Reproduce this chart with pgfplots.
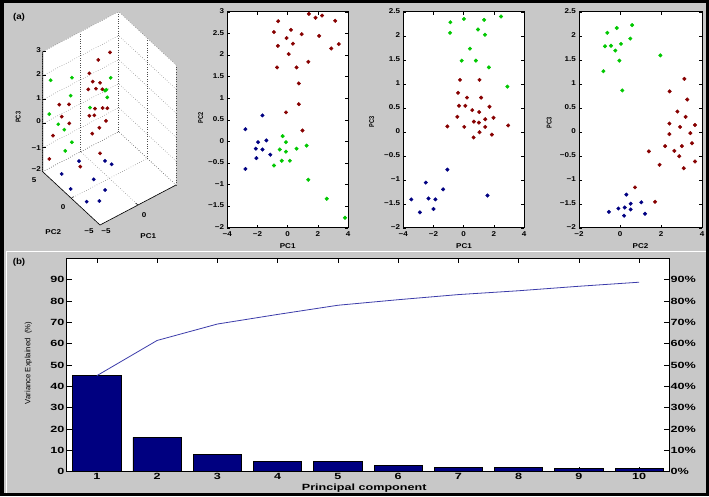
\documentclass[border=0pt]{standalone}
\usepackage{fontspec}
\setmainfont{Liberation Sans}
\newfontfamily\widefont{Liberation Sans}[FakeStretch=1.4]
\newfontfamily\midfont{Liberation Sans}[FakeStretch=1.15]
\newfontfamily\narrowfont{Liberation Sans}[FakeStretch=0.8]
\usepackage{pgfplots}
\pgfplotsset{compat=1.18}

\definecolor{panel}{RGB}{200,200,200}
\definecolor{pcred}{RGB}{135,0,0}
\definecolor{pcgreen}{RGB}{0,200,0}
\definecolor{pcblue}{RGB}{0,0,130}
\definecolor{barblue}{RGB}{0,0,128}
\definecolor{cumline}{RGB}{60,60,170}

\newcommand{\pctop}{\midfont\bfseries\fontsize{7}{8}\selectfont}
\newcommand{\pcbot}{\widefont\bfseries\fontsize{9}{10}\selectfont}

\pgfplotsset{
  pcscatter/.style={
    scale only axis, anchor=south west,
    width=120.7pt, height=216pt,
    axis background/.style={fill=white},
    tick align=inside, major tick length=3pt,
    tick style={black, line width=0.4pt},
    axis line style={line width=0.6pt},
    ticklabel style={font=\pctop},
    xticklabel style={inner sep=1.5pt, yshift=-2.5pt},
    yticklabel style={inner sep=3pt, yshift=0.5pt},
    clip=false, mark size=1.8pt,
  },
  redpts/.style={only marks, mark=*, color=pcred},
  greenpts/.style={only marks, mark=*, color=pcgreen},
  bluepts/.style={only marks, mark=*, color=pcblue},
}

\begin{document}
\begin{tikzpicture}
\useasboundingbox (0pt,0pt) rectangle (709pt,-496pt);
\begin{scope}[x=1pt,y=-1pt]
  \fill[black] (0,0) rectangle (709,496);
  \fill[panel] (4,3) rectangle (706,493);
  \draw[white, line width=1pt] (6,493) -- (6,251) -- (706,251);
  % white walls of the 3D box
  \fill[white] (42.7,171.7) -- (42.7,51.7) -- (118.7,11.7) -- (176,65) -- (176,185) -- (100,225) -- cycle;
\end{scope}

% ---------- (a) 3D view
\begin{axis}[
  at={(109.35pt,-130.35pt)}, anchor=origin,
  x={(7.6pt,4pt)}, y={(-5.73pt,5.33pt)}, z={(0pt,24pt)},
  xmin=-5, xmax=5, ymin=-5, ymax=5, zmin=-2, zmax=3,
  xtick={-5,0,5}, ytick={-5,0,5}, ztick={-2,...,3},
  xticklabels={}, yticklabels={}, zticklabels={},
  grid=major, major grid style={black!70, dotted, line width=0.5pt},
  axis line style={draw=none}, tick style={draw=none},
  clip=false, mark size=1.7pt,
]
\addplot3[redpts] coordinates {
  (2.72,3.5,2.02) (1.18,3.5,1.96) (0,3.5,1.6) (0.45,3.5,1.18) (1.41,3.5,0.97)
  (0.88,3.5,0.81) (-0.13,3.5,0.95) (1.71,3.5,0.65) (-3.95,3.5,0.95) (-2.67,3.5,0.75)
  (0.75,3.5,0) (1.76,3.5,-0.14) (2.37,3.5,-0.25) (0,3.5,-0.17) (0.66,3.5,-0.26)
  (-3.63,3.5,0.4) (-2.63,3.5,-0.05) (2.2,3.5,-0.75) (1.32,3.5,-0.89) (-4.78,3.5,-0.2)
  (0.39,3.5,-0.98) (-4.51,4.5,-1.44) (-0.47,1,-1.1) (-3.07,1,-1.22)};
\addplot3[greenpts] coordinates {
  (-4.33,4.5,1.81) (-1.53,4.5,1.45) (0.18,0,2.16) (-0.57,0,1.75) (-0.4,0,1.76)
  (-0.27,0,1.42) (-1.7,4.5,0.73) (-4.51,4.5,0.43) (-2.55,0,1.37) (-3.33,4.5,-0.19)
  (-2.54,4.5,-0.55) (-1.53,4.5,-1.24) (-2.41,4.5,-1.45)};
\addplot3[bluepts] coordinates {
  (-2.07,2.55,-1.5) (0.12,0.92,-1.5) (0.38,0.10,-1.5) (-4.69,2.09,-1.5) (-2.49,-0.57,-1.5)
  (-4.64,0.59,-1.8) (-2.5,-2.56,-1.5) (-4.23,-1.66,-1.9) (-3.32,-2.66,-1.8)};
\end{axis}

% ---------- PC1 vs PC2
\begin{axis}[pcscatter, at={(227.3pt,-227.7pt)},
  xmin=-4, xmax=4, ymin=-2, ymax=3,
  xtick={-4,-2,0,2,4}, xticklabels={−4,−2,0,2,4},
  ytick={-2,-1.5,-1,-0.5,0,0.5,1,1.5,2,2.5,3},
  yticklabels={−2,−1.5,−1,−0.5,0,0.5,1,1.5,2,2.5,3}]
\addplot[redpts] coordinates {
  (1.41,2.95) (1.85,2.86) (2.28,2.91) (3.15,2.79) (-0.63,2.78) (-0.91,2.53) (0.22,2.58)
  (-0.07,2.39) (0.93,2.48) (2.09,2.44) (0.35,2.26) (-0.65,2.21) (3.39,2.25) (2.89,2.15)
  (0.07,2.02) (1.37,1.84) (-0.70,1.71) (0.59,1.71) (0.74,1.34) (0.74,0.86) (-0.11,0.67)
  (0.98,0.25)};
\addplot[bluepts] coordinates {
  (-1.67,0.60) (-2.80,0.28) (-1.41,0.02) (-1.96,-0.02) (-2.11,-0.17) (-1.67,-0.19)
  (-1.15,-0.31) (-2.07,-0.39) (-2.80,-0.64)};
\addplot[greenpts] coordinates {
  (-0.33,0.12) (-0.11,-0.02) (-0.52,-0.19) (-0.11,-0.24) (0.59,-0.17) (1.26,-0.10)
  (-0.39,-0.45) (0.15,-0.45) (-0.91,-0.56) (1.37,-0.89) (2.59,-1.33) (3.80,-1.77)};
\end{axis}

% ---------- PC1 vs PC3
\begin{axis}[pcscatter, at={(403.3pt,-227.7pt)},
  xmin=-4, xmax=4, ymin=-2, ymax=2.5,
  xtick={-4,-2,0,2,4}, xticklabels={−4,−2,0,2,4},
  ytick={-2,-1.5,-1,-0.5,0,0.5,1,1.5,2,2.5},
  yticklabels={−2,−1.5,−1,−0.5,0,0.5,1,1.5,2,2.5}]
\addplot[greenpts] coordinates {
  (-0.88,2.28) (0.02,2.35) (1.36,2.33) (2.48,2.40) (-0.90,2.06) (0.95,2.13) (1.41,2.02)
  (0.42,1.73) (-0.13,1.48) (0.81,1.48) (1.67,1.34) (2.90,0.94)};
\addplot[redpts] coordinates {
  (-0.24,1.08) (1.05,1.08) (-0.37,0.81) (0.22,0.71) (1.16,0.71) (-0.31,0.54) (0.11,0.54)
  (0.57,0.45) (1.03,0.41) (1.71,0.52) (-0.42,0.31) (1.43,0.26) (1.98,0.29) (0.68,0.21)
  (1.01,0.19) (-1.08,0.11) (0.04,0.10) (1.43,0.10) (2.95,0.13) (1.05,-0.01) (1.87,-0.06)
  (0.66,-0.12)};
\addplot[bluepts] coordinates {
  (-3.47,-1.41) (-2.51,-1.06) (-2.33,-1.39) (-2.90,-1.68) (-1.87,-1.41) (-2.00,-1.61)
  (-1.36,-1.20) (-1.08,-0.79) (1.58,-1.33)};
\end{axis}

% ---------- PC2 vs PC3
\begin{axis}[pcscatter, at={(579pt,-227.7pt)}, width=123pt,
  xmin=-2, xmax=4, ymin=-2, ymax=2.5,
  xtick={-2,0,2,4}, xticklabels={−2,0,2,4},
  ytick={-2,-1.5,-1,-0.5,0,0.5,1,1.5,2,2.5},
  yticklabels={−2,−1.5,−1,−0.5,0,0.5,1,1.5,2,2.5}]
\addplot[greenpts] coordinates {
  (-0.62,2.06) (-0.16,2.16) (0.59,2.22) (-0.73,1.78) (-0.44,1.79) (0.05,1.83)
  (-0.23,1.69) (0.50,1.94) (-0.03,1.48) (-0.81,1.26) (0.11,0.86) (1.97,1.59)};
\addplot[redpts] coordinates {
  (3.14,1.10) (2.42,0.84) (3.28,0.67) (2.80,0.42) (3.20,0.31) (2.41,0.17) (2.93,0.10)
  (3.66,0.14) (2.41,-0.05) (3.43,-0.03) (2.20,-0.30) (3.02,-0.30) (3.51,-0.24)
  (1.41,-0.41) (2.65,-0.40) (2.89,-0.51) (1.93,-0.69) (3.66,-0.62) (3.11,-0.76)
  (0.73,-1.16) (1.71,-1.46)};
\addplot[bluepts] coordinates {
  (0.31,-1.31) (-0.54,-1.67) (-0.08,-1.60) (0.23,-1.58) (0.52,-1.50) (0.52,-1.62)
  (0.20,-1.75) (1.04,-1.47) (1.22,-1.71)};
\end{axis}

% ---------- (b) Pareto chart
\begin{axis}[
  at={(66.7pt,-471.7pt)}, anchor=south west, scale only axis,
  width=602.6pt, height=213.4pt,
  axis background/.style={fill=white},
  xmin=0.5, xmax=10.5, ymin=0, ymax=100,
  xtick={1,...,10}, xticklabels={1,2,3,4,5,6,7,8,9,10},
  ytick={0,10,...,90}, yticklabels={0,10,20,30,40,50,60,70,80,90},
  ytick pos=left,
  tick align=inside, major tick length=5pt,
  tick style={black, line width=0.5pt},
  axis line style={line width=0.7pt},
  ticklabel style={font=\pcbot},
  xticklabel style={inner sep=1.5pt},
  yticklabel style={inner sep=2pt},
]
\addplot[ybar, bar width=0.8, fill=barblue, draw=black, line width=0.7pt] coordinates {
  (1,45) (2,16.1) (3,8.2) (4,5.0) (5,4.7) (6,3.0) (7,2.2) (8,1.9) (9,1.6) (10,1.5)};
\addplot[sharp plot, color=cumline, line width=0.8pt] coordinates {
  (1,45) (2,61.5) (3,69.2) (4,73.7) (5,78.0) (6,80.6) (7,83.0) (8,84.8) (9,86.9) (10,88.8)};
\end{axis}
\begin{axis}[
  at={(66.7pt,-471.7pt)}, anchor=south west, scale only axis,
  width=602.6pt, height=213.4pt,
  xmin=0.5, xmax=10.5, ymin=0, ymax=100,
  axis x line=none, axis y line*=right,
  ytick={0,10,...,90},
  yticklabels={0\%,10\%,20\%,30\%,40\%,50\%,60\%,70\%,80\%,90\%},
  tick align=inside, major tick length=5pt,
  tick style={black, line width=0.5pt},
  axis line style={line width=0.7pt},
  yticklabel style={font=\pcbot, inner sep=1pt},
]
\end{axis}

\begin{scope}[x=1pt,y=-1pt]
  % front edges of the 3D box
  \draw[black, line width=0.6pt] (42.7,51.7) -- (42.7,171.7) -- (100,225) -- (176,185);
  \foreach \yy in {51.7,75.7,99.7,123.7,147.7} \draw[black, line width=0.5pt] (42.7,\yy) -- (45.5,\yy);
  \draw[black, line width=0.5pt] (71.35,198.35) -- (73.5,196.5);
  \draw[black, line width=0.5pt] (138,205) -- (135.5,203);
  \begin{scope}[every node/.style={font=\pctop, inner sep=0pt}]
    \node[anchor=east] at (41,50) {3};
    \node[anchor=east] at (41,74.5) {2};
    \node[anchor=east] at (41,98.5) {1};
    \node[anchor=east] at (41,121) {0};
    \node[anchor=east] at (41,148) {−1};
    \node[anchor=east] at (41,169) {−2};
    \node at (34.2,180) {5};
    \node at (63,207.5) {0};
    \node at (89,231.5) {−5};
    \node at (106,231.5) {−5};
    \node at (144.2,215.3) {0};
    \node at (53.3,232.3) {PC2};
    \node at (148.3,235.8) {PC1};
    \node[rotate=90, font=\narrowfont\bfseries\fontsize{7}{8}\selectfont] at (18.3,117.3) {PC3};
    \node[rotate=90, font=\narrowfont\bfseries\fontsize{7}{8}\selectfont] at (200.7,118) {PC2};
    \node[rotate=90, font=\narrowfont\bfseries\fontsize{7}{8}\selectfont] at (371.7,121.7) {PC3};
    \node[rotate=90, font=\narrowfont\bfseries\fontsize{7}{8}\selectfont] at (549.3,123) {PC3};
    \node at (287.7,246.5) {PC1};
    \node at (464,246.5) {PC1};
    \node at (640.5,246.5) {PC2};
  \end{scope}
  \node[font=\midfont\bfseries\fontsize{8.5}{9}\selectfont] at (19,17) {(a)};
  \node[font=\midfont\bfseries\fontsize{8.5}{9}\selectfont] at (19,262.5) {(b)};
  \node[rotate=90, font=\fontsize{7.7}{8}\selectfont] at (28.5,363) {Variance Explained\ \ (\%)};
  \node[font=\pcbot] at (364.2,488) {Principal component};
\end{scope}
\end{tikzpicture}
\end{document}
